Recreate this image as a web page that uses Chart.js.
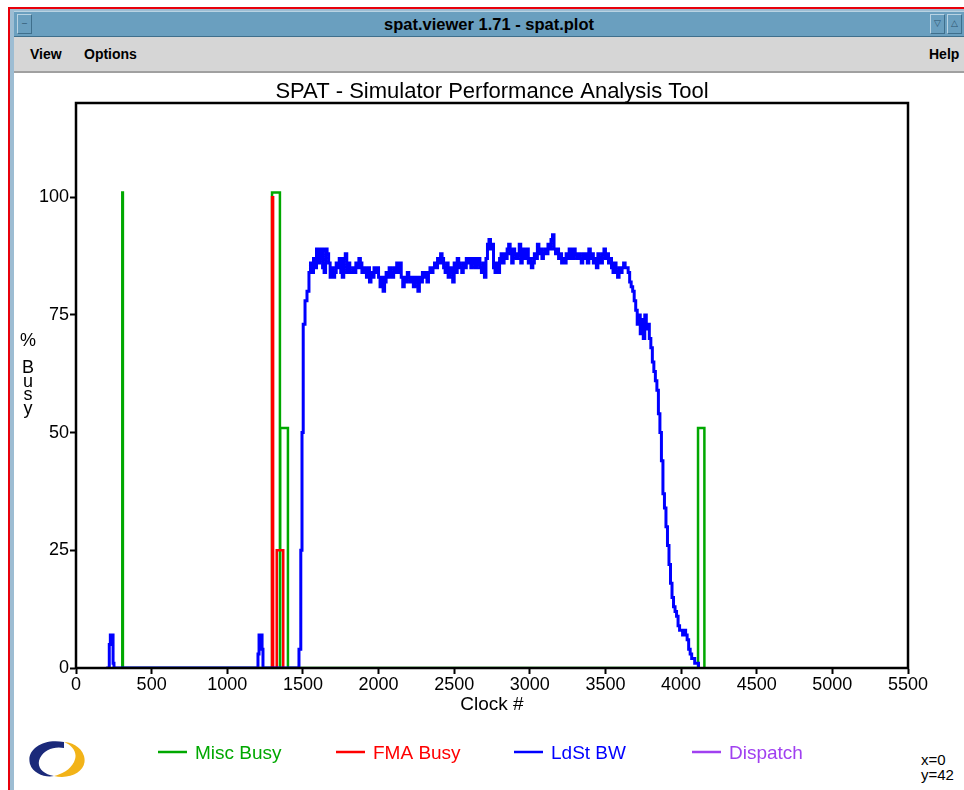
<!DOCTYPE html>
<html lang="en">
<head>
<meta charset="UTF-8">
<title>spat.viewer 1.71 - spat.plot</title>
<script src="https://cdn.jsdelivr.net/npm/chart.js"></script>
<style>
  html, body { margin: 0; padding: 0; background: #fff; }
  body { width: 964px; height: 790px; position: relative; overflow: hidden;
         font-family: 'Liberation Sans', Arial, sans-serif; }
  #redTop { position: absolute; left: 8px; top: 7px; right: 0; height: 2px; background: #e8000b; }
  #redLeft { position: absolute; left: 8px; top: 7px; width: 2px; bottom: 0; background: #e8000b; }
  #edge { position: absolute; left: 10px; top: 9px; right: 0; bottom: 0;
          border-left: 4px solid #9dbdd3; border-top: 2px solid #9dbdd3; }
  #titlebar { position: absolute; left: 14px; top: 11px; right: 0; height: 26px; background: #6a9fbf;
              border-top: 1px solid #b9d3e3; border-bottom: 1px solid #3f6f8c; box-sizing: border-box;
              color: #000; font-weight: bold; font-size: 16.5px; text-align: center; line-height: 24px; }
  .wbtn { position: absolute; top: 2px; width: 15px; height: 20px; border: 1px solid #3f6f8c;
          border-top-color: #b9d3e3; border-left-color: #b9d3e3; box-sizing: border-box;
          font-size: 9px; line-height: 17px; font-weight: normal; color: #2d5570; text-align: center; }
  #menubar { position: absolute; left: 14px; top: 37px; right: 0; height: 36px; background: #d6d6d6;
             border-bottom: 2px solid #a0a0a0; box-sizing: border-box; font-weight: bold; font-size: 14px; }
  #menubar span { position: absolute; top: 9px; }
  #readout { position: absolute; left: 921px; top: 752px; font-size: 15px; line-height: 15px; color: #000; }
  #logo { position: absolute; left: 24px; top: 736px; }
  #chart { position: absolute; left: 0; top: 0; }
</style>
</head>
<body>
<div id="redTop"></div>
<div id="redLeft"></div>
<div id="edge"></div>
<div id="titlebar">
  <div class="wbtn" style="left:3px">&#8211;</div>
  spat.viewer 1.71 - spat.plot
  <div class="wbtn" style="left:916px">&#9661;</div>
  <div class="wbtn" style="left:933px">&#9651;</div>
</div>
<div id="menubar"><span style="left:16px">View</span><span style="left:70px">Options</span><span style="left:915px">Help</span></div>
<svg id="logo" width="66" height="48" viewBox="0 0 66 48">
  <path d="M40 6 C18 2 2 14 6 28 C9 38 22 42 30 40 C18 38 12 30 16 22 C20 14 30 10 40 12 Z" fill="#1b2a7a"/>
  <path d="M30 40 C48 44 64 34 60 20 C57 10 46 6 40 6 C50 10 54 18 50 26 C46 34 38 38 30 40 Z" fill="#f2b318"/>
</svg>
<div id="readout">x=0<br>y=42</div>
<canvas id="chart" width="964" height="790"></canvas>
<script>
// axis ticks
const xTickValues = [0, 500, 1000, 1500, 2000, 2500, 3000, 3500, 4000, 4500, 5000, 5500];
const yTickValues = [0, 25, 50, 75, 100];

// Misc Busy (green) pulses
const miscClock = [300, 306, 310, 1290, 1296, 1348, 1350, 1401, 4105, 4112, 4154];
const miscBusy  = [0, 101, 0, 0, 101, 0, 51, 0, 0, 51, 0];

// FMA Busy (red) pulses
const fmaClock = [1285, 1296, 1303, 1327, 1370];
const fmaBusy  = [0, 100, 0, 25, 0];

// LdSt BW (blue)
const ldstClock = [
  200, 220, 227, 245, 251,
  1195, 1203, 1210, 1230, 1236,
  1460, 1474, 1486, 1494, 1502, 1514, 1527, 1540,
  1550, 1560, 1570, 1580, 1590, 1600, 1610, 1620, 1630, 1640, 1650, 1660, 1670, 1680, 1690,
  1700, 1710, 1720, 1730, 1740, 1750, 1760, 1770, 1780, 1790, 1800, 1810, 1820, 1830, 1840,
  1850, 1860, 1870, 1880, 1890, 1900, 1910, 1920, 1930, 1940, 1950, 1960, 1970, 1980, 1990,
  2000, 2010, 2020, 2030, 2040, 2050, 2060, 2070, 2080, 2090, 2100, 2110, 2120, 2130, 2140,
  2150, 2160, 2170, 2180, 2190, 2200, 2210, 2220, 2230, 2240, 2250, 2260, 2270, 2280, 2290,
  2300, 2310, 2320, 2330, 2340, 2350, 2360, 2370, 2380, 2390, 2400, 2410, 2420, 2430, 2440,
  2450, 2460, 2470, 2480, 2490, 2500, 2510, 2520, 2530, 2540, 2550, 2560, 2570, 2580, 2590,
  2600, 2610, 2620, 2630, 2640, 2650, 2660, 2670, 2680, 2690, 2700, 2710, 2720, 2730, 2740,
  2750, 2760, 2770, 2780, 2790, 2800, 2810, 2820, 2830, 2840, 2850, 2860, 2870, 2880, 2890,
  2900, 2910, 2920, 2930, 2940, 2950, 2960, 2970, 2980, 2990, 3000, 3010, 3020, 3030, 3040,
  3050, 3060, 3070, 3080, 3090, 3100, 3110, 3120, 3130, 3140, 3150, 3160, 3170, 3180, 3190,
  3200, 3210, 3220, 3230, 3240, 3250, 3260, 3270, 3280, 3290, 3300, 3310, 3320, 3330, 3340,
  3350, 3360, 3370, 3380, 3390, 3400, 3410, 3420, 3430, 3440, 3450, 3460, 3470, 3480, 3490,
  3500, 3510, 3520, 3530, 3540, 3550, 3560, 3570, 3580, 3590, 3600, 3610, 3620, 3630, 3640,
  3650, 3660, 3670, 3680, 3690, 3700, 3710, 3720, 3730, 3740, 3750, 3760, 3770, 3780, 3790,
  3800, 3810, 3820, 3830, 3840, 3850, 3860, 3870, 3880, 3890, 3900, 3910, 3920, 3930, 3940,
  3950, 3960, 3970, 3980, 3990, 4000, 4010, 4020, 4030, 4040, 4050, 4060, 4070, 4080, 4090,
  4100, 4115
];
const ldstBW = [
  0, 5, 7, 1, 0,
  0, 3, 7, 4, 0,
  0, 4, 25, 50, 73, 78, 80, 84,
  86, 84, 87, 85, 89, 86, 87, 89, 85, 84, 89, 88, 86, 83, 85,
  83, 84, 86, 85, 87, 84, 83, 87, 88, 84, 86, 84, 84, 85, 84,
  86, 85, 87, 86, 84, 85, 84, 83, 85, 82, 84, 83, 85, 84, 85,
  83, 81, 83, 80, 82, 84, 83, 85, 84, 83, 85, 84, 86, 84, 86,
  83, 81, 83, 82, 84, 83, 82, 83, 81, 83, 82, 80, 83, 82, 84,
  83, 84, 82, 84, 85, 84, 85, 86, 85, 87, 86, 88, 87, 85, 84,
  86, 83, 85, 84, 82, 86, 84, 87, 86, 85, 84, 86, 85, 87, 86,
  87, 85, 86, 87, 85, 86, 87, 85, 84, 86, 83, 87, 90, 91, 89,
  90, 85, 84, 86, 84, 87, 88, 86, 88, 87, 89, 90, 88, 86, 89,
  88, 87, 88, 90, 86, 89, 88, 87, 89, 86, 87, 85, 86, 88, 87,
  90, 88, 89, 87, 88, 89, 88, 90, 89, 91, 92, 89, 88, 89, 87,
  88, 86, 87, 86, 88, 87, 89, 88, 87, 89, 88, 87, 88, 87, 86,
  88, 87, 88, 86, 89, 87, 88, 86, 87, 85, 88, 87, 86, 88, 89,
  87, 88, 86, 87, 85, 84, 86, 84, 83, 85, 84, 85, 86, 85, 85,
  84, 82, 81, 80, 78, 76, 73, 75, 71, 74, 70, 75, 72, 73, 70,
  68, 65, 63, 61, 59, 54, 50, 44, 37, 34, 30, 26, 22, 18, 15,
  13, 12, 11, 9, 8, 8, 7, 8, 7, 6, 4, 3, 2, 2, 1,
  1, 0
];

// Dispatch (purple) - nothing visible in this run
const dispatchClock = [];
const dispatchVal = [];

const toPoints = (xs, ys) => xs.map((x, i) => ({ x: x, y: ys[i] }));

const FONT = "'Liberation Sans', Arial, sans-serif";

const spatDecor = {
  id: 'spatDecor',
  afterDatasetsDraw(chart) {
    const { ctx, chartArea: a } = chart;
    ctx.save();
    ctx.strokeStyle = '#000';
    ctx.lineWidth = 2.5;
    ctx.strokeRect(a.left, a.top, a.right - a.left, a.bottom - a.top);
    ctx.restore();
  },
  afterDraw(chart) {
    const { ctx, chartArea: a } = chart;
    ctx.save();
    // title
    ctx.fillStyle = '#000';
    ctx.font = '22px ' + FONT;
    ctx.textAlign = 'center';
    ctx.textBaseline = 'alphabetic';
    ctx.fillText('SPAT - Simulator Performance Analysis Tool', (a.left + a.right) / 2, 98);
    // stacked y title
    ctx.font = '18px ' + FONT;
    const yChars = ['%', '', 'B', 'u', 's', 'y'];
    yChars.forEach((c, i) => ctx.fillText(c, 28, 346 + i * 13.5));
    // legend
    ctx.font = '19px ' + FONT;
    ctx.textAlign = 'left';
    chart.data.datasets.forEach((ds, i) => {
      const x0 = chart.width / 2 - 324 + 178 * i;
      ctx.strokeStyle = ds.borderColor;
      ctx.lineWidth = 2.5;
      ctx.beginPath();
      ctx.moveTo(x0, 752);
      ctx.lineTo(x0 + 29, 752);
      ctx.stroke();
      ctx.fillStyle = ds.borderColor;
      ctx.fillText(ds.label, x0 + 37, 759);
    });
    ctx.restore();
  }
};

const lineStyle = { stepped: 'before', borderWidth: 2.5, pointRadius: 0, fill: false, tension: 0 };

new Chart(document.getElementById('chart'), {
  type: 'line',
  data: {
    datasets: [
      Object.assign({ label: 'Misc Busy', data: toPoints(miscClock, miscBusy), borderColor: '#00a800', order: 2 }, lineStyle),
      Object.assign({ label: 'FMA Busy', data: toPoints(fmaClock, fmaBusy), borderColor: '#ff0000', order: 1 }, lineStyle),
      Object.assign({ label: 'LdSt BW', data: toPoints(ldstClock, ldstBW), borderColor: '#0000ff', order: 0 }, lineStyle, { borderWidth: 3 }),
      Object.assign({ label: 'Dispatch', data: toPoints(dispatchClock, dispatchVal), borderColor: '#a040f0', order: 3 }, lineStyle)
    ]
  },
  options: {
    responsive: false,
    animation: false,
    events: [],
    layout: { padding: { top: 103, left: 36, right: 56, bottom: 72 } },
    scales: {
      x: {
        type: 'linear', min: 0, max: 5500,
        afterBuildTicks: s => { s.ticks = xTickValues.map(v => ({ value: v })); },
        afterFit: s => { s.height = 50; },
        grid: { drawOnChartArea: false, drawTicks: true, tickLength: 6, tickWidth: 2, tickColor: '#000' },
        border: { display: true, color: '#000', width: 2 },
        ticks: { color: '#000', font: { family: FONT, size: 18 }, padding: 0, maxRotation: 0, autoSkip: false,
                 callback: v => String(v) },
        title: { display: true, text: 'Clock #', color: '#000', font: { family: FONT, size: 19 }, padding: { top: 0, bottom: 2 } }
      },
      y: {
        type: 'linear', min: 0, max: 120,
        afterBuildTicks: s => { s.ticks = yTickValues.map(v => ({ value: v })); },
        afterFit: s => { s.width = 40; },
        grid: { drawOnChartArea: false, drawTicks: true, tickLength: 6, tickWidth: 2, tickColor: '#000' },
        border: { display: true, color: '#000', width: 2 },
        ticks: { color: '#000', font: { family: FONT, size: 18 }, padding: 1, callback: v => String(v) }
      }
    },
    plugins: {
      legend: { display: false },
      title: { display: false },
      tooltip: { enabled: false }
    }
  },
  plugins: [spatDecor]
});
</script>
</body>
</html>
